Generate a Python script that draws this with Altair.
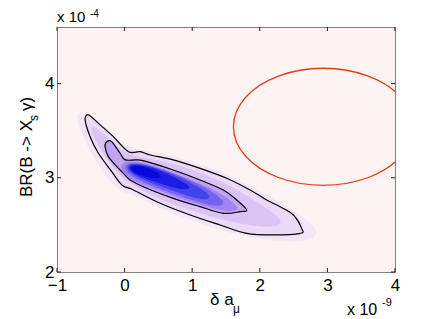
import altair as alt
import pandas as pd

# ---------------- data ----------------
x_ticks = [-1, 0, 1, 2, 3, 4]
y_ticks = [2, 3, 4]

# faint halo around the posterior density
halo_x = [-0.66, -0.45, -0.2, 0.05, 0.4, 0.8, 1.2, 1.6, 2.0, 2.4, 2.72, 2.86, 2.8, 2.5, 2.0, 1.5, 1.0, 0.5, 0.1, -0.12, -0.28, -0.47, -0.62, -0.72]
halo_y = [3.72, 3.6, 3.43, 3.31, 3.28, 3.21, 3.12, 3.01, 2.85, 2.69, 2.54, 2.43, 2.35, 2.32, 2.35, 2.43, 2.55, 2.69, 2.83, 2.88, 3.02, 3.24, 3.45, 3.64]

# outer (black) contour
outer_x = [-0.535, -0.39, -0.166, 0.056, 0.23, 0.377, 0.72, 1.117, 1.51, 1.857, 2.10, 2.30, 2.497, 2.62, 2.60, 2.20, 1.806, 1.413, 0.969, 0.525, 0.13, -0.04, -0.19, -0.388, -0.51, -0.584]
outer_y = [3.667, 3.58, 3.436, 3.277, 3.277, 3.242, 3.19, 3.10, 2.995, 2.87, 2.764, 2.693, 2.605, 2.46, 2.41, 2.393, 2.41, 2.499, 2.605, 2.729, 2.87, 2.924, 3.065, 3.26, 3.436, 3.614]

# intermediate shading level between the contours
mid_x = [-0.48, -0.2, 0.05, 0.4, 0.8, 1.2, 1.6, 1.95, 2.25, 2.35, 2.1, 1.6, 1.0, 0.5, 0.12, -0.13, -0.33, -0.5]
mid_y = [3.58, 3.38, 3.23, 3.2, 3.13, 3.03, 2.9, 2.74, 2.6, 2.51, 2.47, 2.53, 2.65, 2.78, 2.92, 3.06, 3.28, 3.49]

# inner (black) contour
inner_x = [-0.264, -0.19, -0.067, 0.007, 0.18, 0.328, 0.72, 1.117, 1.46, 1.66, 1.806, 1.709, 1.46, 1.117, 0.72, 0.328, 0.081, -0.018, -0.115, -0.24, -0.289]
inner_y = [3.383, 3.383, 3.26, 3.19, 3.19, 3.171, 3.083, 2.977, 2.87, 2.764, 2.658, 2.64, 2.623, 2.693, 2.782, 2.889, 2.977, 3.048, 3.118, 3.224, 3.33]

# core shading levels (lighter -> darker)
core1_x = [-0.05, 0.2, 0.6, 1.0, 1.35, 1.6, 1.7, 1.55, 1.2, 0.8, 0.4, 0.1, -0.05]
core1_y = [3.17, 3.17, 3.08, 2.97, 2.86, 2.74, 2.66, 2.64, 2.7, 2.79, 2.9, 2.98, 3.07]
core2_x = [0.0, 0.3, 0.7, 1.1, 1.4, 1.5, 1.3, 0.9, 0.5, 0.2, 0.02]
core2_y = [3.16, 3.15, 3.05, 2.93, 2.8, 2.71, 2.7, 2.79, 2.89, 2.98, 3.06]
core3_x = [0.03, 0.3, 0.7, 1.05, 1.3, 1.2, 0.9, 0.5, 0.22, 0.05]
core3_y = [3.15, 3.14, 3.04, 2.92, 2.8, 2.76, 2.82, 2.92, 3.0, 3.07]
core4_x = [0.06, 0.3, 0.6, 0.9, 1.0, 0.8, 0.5, 0.25, 0.08]
core4_y = [3.14, 3.13, 3.05, 2.94, 2.88, 2.88, 2.95, 3.01, 3.07]
core5_x = [0.1, 0.3, 0.5, 0.55, 0.4, 0.2, 0.1]
core5_y = [3.13, 3.11, 3.05, 3.0, 3.0, 3.04, 3.08]

# red ellipse, points read around its outline
ell_x = [4.27, 4.092, 3.605, 2.94, 2.275, 1.788, 1.61, 1.788, 2.275, 2.94, 3.605, 4.092]
ell_y = [3.541, 3.852, 4.079, 4.162, 4.079, 3.852, 3.541, 3.231, 3.003, 2.92, 3.003, 3.231]

W, H = 338, 245
FONT = "Liberation Sans"

xs = alt.Scale(domain=[-1, 4], nice=False, zero=False)
ys = alt.Scale(domain=[2, 4.6], nice=False, zero=False)
x_axis = alt.Axis(values=x_ticks, title=None, ticks=False, grid=False,
                  domainColor="#808080", labelFont=FONT, labelFontSize=17,
                  labelColor="black", labelPadding=5, labelFlush=False)
y_axis = alt.Axis(values=y_ticks, title=None, ticks=False, grid=False,
                  domainColor="#808080", labelFont=FONT, labelFontSize=17,
                  labelColor="black", labelPadding=3, labelFlush=False)


def X(field="x:Q"):
    return alt.X(field, scale=xs, axis=x_axis)


def Y(field="y:Q"):
    return alt.Y(field, scale=ys, axis=y_axis)


def poly(xv, yv):
    return pd.DataFrame({"x": xv, "y": yv, "i": list(range(len(xv)))})


def fill_layer(xv, yv, color):
    return alt.Chart(poly(xv, yv)).mark_line(
        fill=color, stroke=color, strokeWidth=1, interpolate="basis-closed"
    ).encode(x=X(), y=Y(), order="i:Q")


def stroke_layer(xv, yv, color, width=1.2, clip=False):
    return alt.Chart(poly(xv, yv)).mark_line(
        stroke=color, strokeWidth=width, interpolate="cardinal-closed", clip=clip
    ).encode(x=X(), y=Y(), order="i:Q")


xt = pd.DataFrame({"x": x_ticks})
yt = pd.DataFrame({"y": y_ticks})
tick_col = "#222222"
xtick_b = alt.Chart(xt).mark_rule(color=tick_col).encode(
    x=X(), y=alt.value(H), y2=alt.value(H - 4))
xtick_t = alt.Chart(xt).mark_rule(color=tick_col).encode(
    x=X(), y=alt.value(0), y2=alt.value(4))
ytick_l = alt.Chart(yt).mark_rule(color=tick_col).encode(
    y=Y(), x=alt.value(0), x2=alt.value(4))
ytick_r = alt.Chart(yt).mark_rule(color=tick_col).encode(
    y=Y(), x=alt.value(W), x2=alt.value(W - 4))


def txt(s, x, y, size, angle=0, align="left"):
    kw = dict(font=FONT, fontSize=size, align=align, baseline="alphabetic", color="black")
    if angle:
        kw["angle"] = angle
    return alt.Chart(pd.DataFrame({"t": [s]})).mark_text(**kw).encode(
        text="t:N", x=alt.value(x), y=alt.value(y))


x_title = ["δ a", "μ"]
y_title = ["BR(B -> X", "s", "γ)"]
exp_top = ["x 10", "-4"]
exp_bot = ["x 10", "-9"]

texts = [
    txt(x_title[0], 153, 278, 17),
    txt(x_title[1], 176, 286, 12),
    txt(y_title[0], -25, 170, 17, angle=270),
    txt(y_title[1], -19, 94, 12, angle=270),
    txt(y_title[2], -25, 84, 17, angle=270),
    txt(exp_top[0], 0, -5, 15),
    txt(exp_top[1], 33, -10, 10),
    txt(exp_bot[0], 290, 288, 16),
    txt(exp_bot[1], 325, 279, 11),
]

layers = [
    fill_layer(halo_x, halo_y, "#f5e6f7"),
    fill_layer(outer_x, outer_y, "#ecd9f6"),
    fill_layer(mid_x, mid_y, "#dcc3f5"),
    fill_layer(inner_x, inner_y, "#c2a3f4"),
    fill_layer(core1_x, core1_y, "#a184f2"),
    fill_layer(core2_x, core2_y, "#7564f0"),
    fill_layer(core3_x, core3_y, "#4343ea"),
    fill_layer(core4_x, core4_y, "#1c1ce4"),
    fill_layer(core5_x, core5_y, "#0808dc"),
    stroke_layer(outer_x, outer_y, "black"),
    stroke_layer(inner_x, inner_y, "black"),
    stroke_layer(ell_x, ell_y, "#e33a1a", 1.3, clip=True),
    xtick_b, xtick_t, ytick_l, ytick_r,
] + texts

chart = alt.layer(*layers).properties(
    width=W, height=H,
    autosize=alt.AutoSizeParams(type="none"),
    padding={"left": 49, "top": 19, "right": 33, "bottom": 47},
    background="white",
).configure_view(fill="#fdf3f3", stroke="#808080")

chart.save("out.html", embed_options={"renderer": "svg", "actions": False})
